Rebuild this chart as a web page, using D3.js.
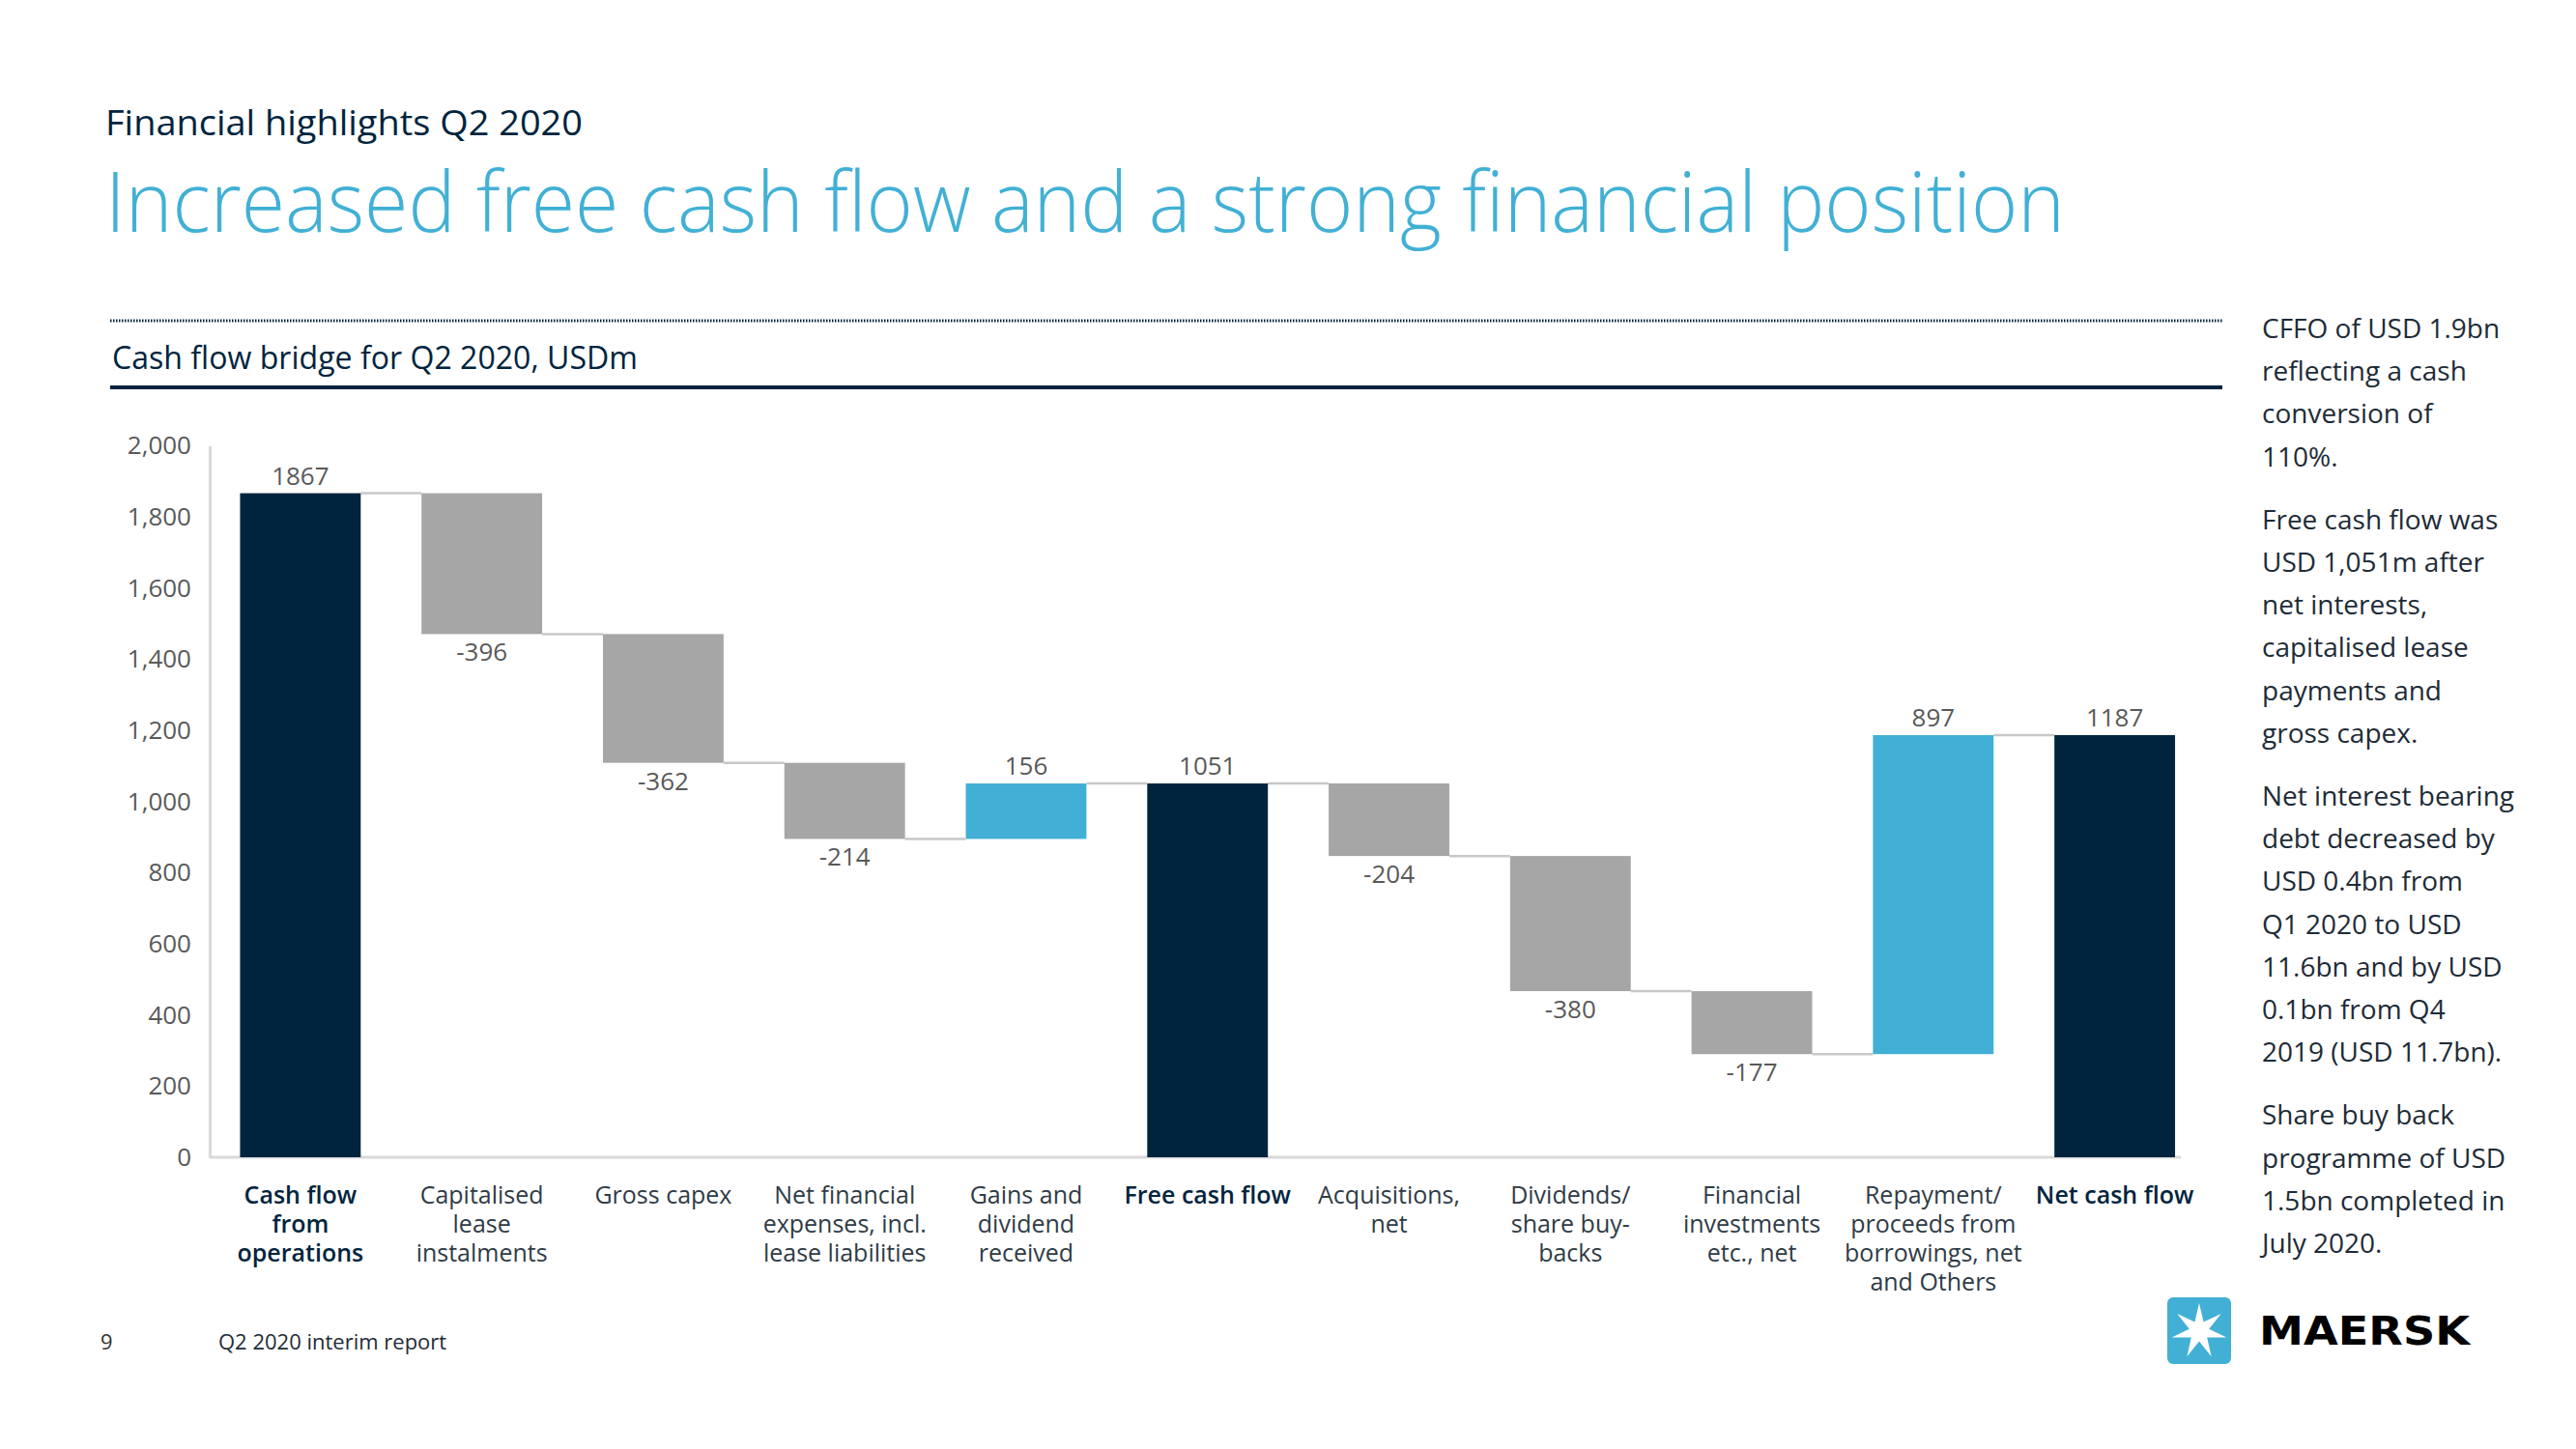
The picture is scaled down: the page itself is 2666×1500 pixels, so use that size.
<!DOCTYPE html>
<html><head><meta charset="utf-8">
<script src="https://cdn.jsdelivr.net/npm/d3@7"></script>
<style>body{margin:0;background:#fff;overflow:hidden}</style>
</head><body>
<svg id="c" width="2666" height="1500"></svg>
<script>
// ---------- data ----------
const categories = ["Cash flow from operations","Capitalised lease instalments","Gross capex",
  "Net financial expenses, incl. lease liabilities","Gains and dividend received","Free cash flow",
  "Acquisitions, net","Dividends/ share buy-backs","Financial investments etc., net",
  "Repayment/ proceeds from borrowings, net and Others","Net cash flow"];
const categoryLines = [["Cash flow","from","operations"],["Capitalised","lease","instalments"],["Gross capex"],
  ["Net financial","expenses, incl.","lease liabilities"],["Gains and","dividend","received"],["Free cash flow"],
  ["Acquisitions,","net"],["Dividends/","share buy-","backs"],["Financial","investments","etc., net"],
  ["Repayment/","proceeds from","borrowings, net","and Others"],["Net cash flow"]];
const values = [1867,-396,-362,-214,156,1051,-204,-380,-177,897,1187];
const kinds = ["total","neg","neg","neg","pos","total","neg","neg","neg","pos","total"];
const yTicks = [0,200,400,600,800,1000,1200,1400,1600,1800,2000];
const notes = [
  ["CFFO of USD 1.9bn","reflecting a cash","conversion of","110%."],
  ["Free cash flow was","USD 1,051m after","net interests,","capitalised lease","payments and","gross capex."],
  ["Net interest bearing","debt decreased by","USD 0.4bn from","Q1 2020 to USD","11.6bn and by USD","0.1bn from Q4","2019 (USD 11.7bn)."],
  ["Share buy back","programme of USD","1.5bn completed in","July 2020."]
];

// ---------- styles ----------
const NAVY = "#00243d", BLUE = "#42b0d5", GREY = "#a6a6a6";
const colorOf = {total: NAVY, neg: GREY, pos: BLUE};
const FONT = "'Open Sans', 'Noto Sans', sans-serif";

const svg = d3.select("#c");

// header
svg.append("text").attr("x",109).attr("y",140).attr("font-family",FONT).attr("font-size",36)
  .attr("fill",NAVY).attr("textLength",494).attr("lengthAdjust","spacingAndGlyphs")
  .text("Financial highlights Q2 2020");
svg.append("text").attr("x",109).attr("y",240).attr("font-family",FONT).attr("font-weight",300)
  .attr("font-size",86).attr("fill",BLUE).attr("textLength",2028).attr("lengthAdjust","spacingAndGlyphs")
  .text("Increased free cash flow and a strong financial position");

svg.append("line").attr("x1",114).attr("x2",2300).attr("y1",332).attr("y2",332)
  .attr("stroke",NAVY).attr("stroke-width",3).attr("stroke-dasharray","1.5,1.5");
svg.append("text").attr("x",116).attr("y",382).attr("font-family",FONT).attr("font-size",33)
  .attr("fill",NAVY).attr("textLength",544).attr("lengthAdjust","spacingAndGlyphs")
  .text("Cash flow bridge for Q2 2020, USDm");
svg.append("line").attr("x1",114).attr("x2",2300).attr("y1",401).attr("y2",401)
  .attr("stroke",NAVY).attr("stroke-width",4);

// ---------- scales ----------
const x = d3.scaleBand().domain(categories).range([217, 2282.5]).paddingInner(0.335).paddingOuter(0.1675);
const y = d3.scaleLinear().domain([0, 2000]).range([1198, 461.6]);

// y axis
const yAxis = svg.append("g").attr("transform","translate(217,0)")
  .call(d3.axisLeft(y).tickValues(yTicks).tickFormat(d3.format(",")).tickSize(0).tickPadding(19));
yAxis.select(".domain").attr("stroke","#d9d9d9").attr("stroke-width",3);
yAxis.selectAll("text").attr("font-family",FONT).attr("font-size",26).attr("fill","#595959");

// waterfall geometry
let running = 0;
const bars = values.map((v,i) => {
  let lo, hi, start, end;
  if (kinds[i] === "total") { lo = 0; hi = v; running = v; end = v; }
  else { start = running; end = running + v; lo = Math.min(start,end); hi = Math.max(start,end); running = end; }
  return {cat: categories[i], v, kind: kinds[i], lo, hi, level: running};
});

// baseline
svg.append("line").attr("x1",217).attr("x2",2257).attr("y1",y(0)).attr("y2",y(0))
  .attr("stroke","#d9d9d9").attr("stroke-width",3);

// connectors
svg.append("g").selectAll("line").data(bars.slice(0,-1)).join("line")
  .attr("x1", d => x(d.cat) + x.bandwidth())
  .attr("x2", (d,i) => x(categories[i+1]))
  .attr("y1", d => y(d.level)).attr("y2", d => y(d.level))
  .attr("stroke","#c8c8c8").attr("stroke-width",2.5);

// bars
svg.append("g").selectAll("rect").data(bars).join("rect")
  .attr("x", d => x(d.cat)).attr("width", x.bandwidth())
  .attr("y", d => y(d.hi)).attr("height", d => y(d.lo) - y(d.hi))
  .attr("fill", d => colorOf[d.kind]);

// value labels
svg.append("g").selectAll("text").data(bars).join("text")
  .attr("x", d => x(d.cat) + x.bandwidth()/2)
  .attr("y", d => d.kind === "neg" ? y(d.lo) + 28 : y(d.hi) - 9)
  .attr("text-anchor","middle").attr("font-family",FONT).attr("font-size",26).attr("fill","#595959")
  .text(d => d.v);

// category labels
const cl = svg.append("g").selectAll("text").data(bars).join("text")
  .attr("text-anchor","middle").attr("font-family",FONT)
  .attr("font-size",25)
  .attr("font-weight", d => d.kind === "total" ? 600 : 400)
  .attr("fill", d => d.kind === "total" ? NAVY : "#2f3b46");
cl.each(function(d,i){
  const t = d3.select(this);
  categoryLines[i].forEach((ln,j) => {
    t.append("tspan").attr("x", x(d.cat) + x.bandwidth()/2).attr("y", 1246 + j*30).text(ln);
  });
});

// right notes
let ny = 350;
notes.forEach(p => {
  p.forEach(ln => {
    svg.append("text").attr("x",2341).attr("y",ny).attr("font-family",FONT).attr("font-size",28)
      .attr("fill","#1e2b37").text(ln);
    ny += 44.2;
  });
  ny += 21;
});

// footer
svg.append("text").attr("x",104).attr("y",1397).attr("font-family",FONT).attr("font-size",22)
  .attr("fill","#333").text("9");
svg.append("text").attr("x",226).attr("y",1397).attr("font-family",FONT).attr("font-size",22)
  .attr("fill","#1e2b37").text("Q2 2020 interim report");

// logo
svg.append("rect").attr("x",2243).attr("y",1343).attr("width",66).attr("height",69).attr("rx",6)
  .attr("fill",BLUE);
const cx = 2276, cy = 1378, R = 29, r = 10.5, pts = [];
for (let k = 0; k < 14; k++) {
  const a = -Math.PI/2 + k*Math.PI/7, rad = k % 2 === 0 ? R : r;
  pts.push([cx + rad*Math.cos(a), cy + rad*Math.sin(a)]);
}
svg.append("path").attr("d", d3.line()(pts) + "Z").attr("fill","#fff");
svg.append("text").attr("x",2338).attr("y",1392).attr("font-family","'DejaVu Sans', sans-serif")
  .attr("font-weight",700).attr("font-size",41).attr("fill","#000")
  .attr("textLength",218).attr("lengthAdjust","spacingAndGlyphs").text("MAERSK");
</script>
</body></html>
